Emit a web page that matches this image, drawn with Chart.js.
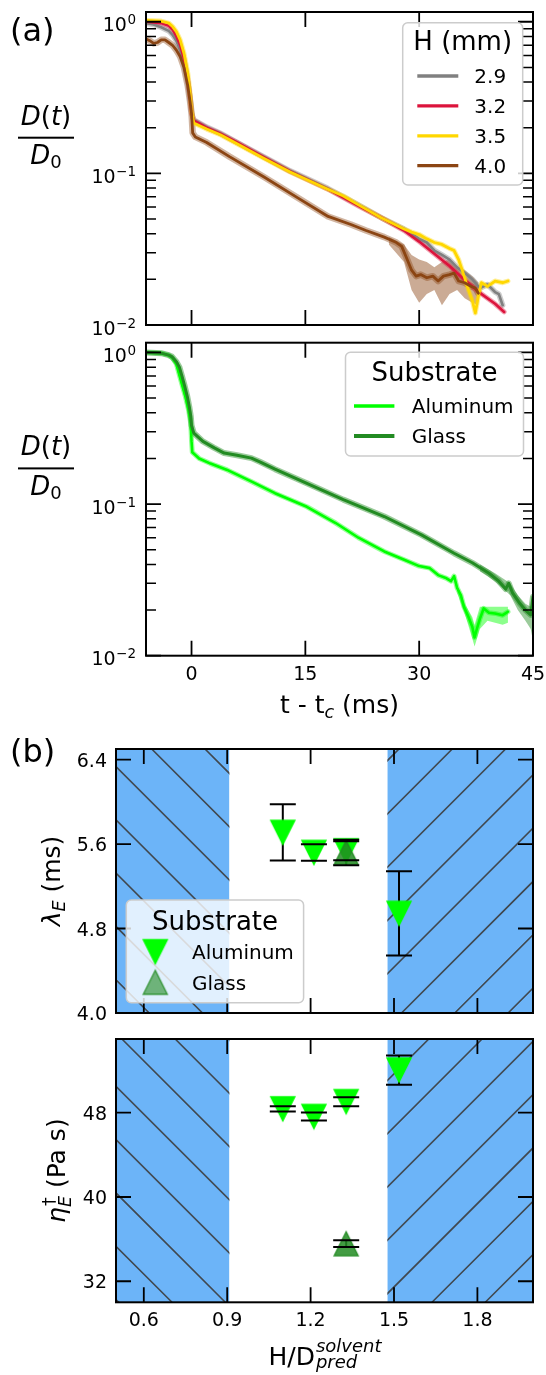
<!DOCTYPE html>
<html>
<head>
<meta charset="utf-8">
<script src="https://cdn.jsdelivr.net/npm/chart.js@4.4.0/dist/chart.umd.min.js"></script>
<style>
  html, body { margin: 0; padding: 0; background: #fff; }
  #wrap { position: relative; width: 546px; height: 1375px; overflow: hidden; }
  canvas { position: absolute; left: 0; }
</style>
</head>
<body>
<div id="wrap">
  <canvas id="cA" width="546" height="336" style="top:0px"></canvas>
  <canvas id="cB" width="546" height="390" style="top:336px"></canvas>
  <canvas id="cC" width="546" height="300" style="top:726px"></canvas>
  <canvas id="cD" width="546" height="349" style="top:1026px"></canvas>
</div>
<script>
// (a) top: D/D0 vs t - tc for the four heights
const H_LABELS = ["2.9", "3.2", "3.5", "4.0"];
const H_COLORS = ["#808080", "#dc143c", "#ffd700", "#8b4513"];

const T_29 = [-6, -5, -4, -3, -2.5, -2, -1.5, -1, -0.5, -0.2, 0, 0.3, 1, 2, 3.8, 6, 9.5, 13, 17.9, 22, 25, 28, 30, 31, 32, 33, 34, 35, 36, 37, 38, 39, 40, 40.5, 41];
const D_29 = [0.98, 0.96, 0.92, 0.87, 0.82, 0.75, 0.65, 0.53, 0.4, 0.31, 0.25, 0.225, 0.215, 0.202, 0.184, 0.16, 0.129, 0.104, 0.08, 0.062, 0.051, 0.043, 0.037, 0.035, 0.031, 0.029, 0.027, 0.024, 0.022, 0.02, 0.0175, 0.0185, 0.0165, 0.016, 0.0135];

const T_32 = [-6, -4, -3, -2.5, -2, -1.5, -1, -0.5, -0.2, 0, 0.3, 1, 2, 3.8, 6, 9.5, 13, 17.9, 22, 25, 28, 30, 32, 34, 36, 38, 40, 41.2];
const D_32 = [1.0, 0.98, 0.94, 0.89, 0.8, 0.7, 0.57, 0.42, 0.32, 0.25, 0.223, 0.214, 0.2, 0.183, 0.16, 0.128, 0.103, 0.079, 0.061, 0.051, 0.042, 0.0355, 0.0295, 0.0245, 0.0198, 0.0163, 0.0138, 0.0122];

const T_35 = [-6, -4, -3, -2.5, -2, -1.5, -1, -0.5, -0.2, 0, 0.3, 1, 2, 3.8, 6, 9.5, 13, 17.9, 20, 22, 25, 28, 29, 30, 31, 32, 33, 34, 34.6, 35.2, 35.8, 36.5, 37, 37.4, 37.8, 38.2, 39, 40, 41, 41.7];
const D_35 = [1.02, 1.01, 0.98, 0.93, 0.86, 0.76, 0.62, 0.46, 0.34, 0.26, 0.215, 0.207, 0.196, 0.18, 0.157, 0.126, 0.102, 0.079, 0.071, 0.062, 0.051, 0.043, 0.041, 0.0395, 0.037, 0.035, 0.034, 0.032, 0.031, 0.027, 0.022, 0.017, 0.0145, 0.012, 0.0155, 0.019, 0.018, 0.0195, 0.019, 0.0195];

const T_40 = [-6, -5.5, -5, -4.5, -4, -3.5, -3, -2.5, -2, -1.5, -1, -0.5, -0.2, 0, 0.15, 0.5, 2, 5, 9.5, 14, 18, 21, 23, 25.4, 27, 27.7, 28.3, 29, 29.6, 30.2, 31, 31.8, 32.5, 33.2, 34, 34.6, 35.2, 36, 36.8, 37.4, 37.8];
const D_40 = [0.77, 0.75, 0.72, 0.73, 0.76, 0.76, 0.73, 0.7, 0.65, 0.59, 0.5, 0.38, 0.3, 0.25, 0.185, 0.174, 0.16, 0.129, 0.095, 0.069, 0.052, 0.046, 0.042, 0.038, 0.035, 0.033, 0.028, 0.023, 0.021, 0.0215, 0.0205, 0.021, 0.0195, 0.021, 0.0215, 0.022, 0.0195, 0.019, 0.018, 0.0175, 0.0162];
// spread of the 4.0 mm runs at the noisy end
const T_40B = [26, 28, 29, 30, 31, 32, 33, 34, 35, 36, 37, 37.8];
const LO_40 = [0.034, 0.026, 0.017, 0.014, 0.016, 0.017, 0.0135, 0.016, 0.017, 0.015, 0.014, 0.0135];
const HI_40 = [0.038, 0.034, 0.029, 0.027, 0.026, 0.024, 0.026, 0.027, 0.024, 0.023, 0.021, 0.019];

// (a) bottom: substrate comparison
const SUB_LABELS = ["Aluminum", "Glass"];
const SUB_COLORS = ["#00ff00", "#228b22"];
const T_AL = [-6, -4, -3, -2.5, -2, -1.7, -1.2, -0.8, -0.4, -0.1, 0, 0.1, 1, 2.5, 4.7, 8, 11, 15.2, 19, 22, 25.4, 28.1, 30, 31.4, 32.5, 33.6, 34.2, 34.6, 35, 35.5, 35.9, 36.5, 37, 37.3, 37.6, 38, 38.5, 39.2, 40, 41, 41.7];
const D_AL = [1.0, 0.99, 0.96, 0.92, 0.84, 0.74, 0.6, 0.51, 0.42, 0.34, 0.26, 0.22, 0.2, 0.185, 0.168, 0.14, 0.118, 0.096, 0.075, 0.06, 0.0487, 0.0428, 0.039, 0.0378, 0.034, 0.0324, 0.031, 0.0335, 0.028, 0.025, 0.021, 0.018, 0.0155, 0.0132, 0.015, 0.0175, 0.0205, 0.0192, 0.019, 0.0185, 0.0195];
const T_ALB = [35, 36, 37, 37.3, 38, 39, 40, 41, 41.7];
const LO_AL = [0.026, 0.019, 0.013, 0.0115, 0.015, 0.017, 0.0165, 0.016, 0.0165];
const HI_AL = [0.029, 0.022, 0.018, 0.016, 0.021, 0.021, 0.021, 0.021, 0.021];
const T_GL = [-6, -4, -3, -2.6, -2, -1.6, -1.25, -0.9, -0.55, -0.3, -0.1, 0, 0.3, 1.5, 3, 4.3, 6, 7.9, 9, 11, 15.2, 20, 25.4, 30.3, 34.6, 37, 39.2, 40.5, 41.4, 41.8, 42.3, 43.3, 44, 44.7, 45];
const D_GL = [1.0, 0.99, 0.96, 0.94, 0.87, 0.8, 0.695, 0.6, 0.51, 0.44, 0.38, 0.33, 0.294, 0.259, 0.235, 0.217, 0.21, 0.201, 0.19, 0.17, 0.137, 0.107, 0.0828, 0.0627, 0.0474, 0.041, 0.035, 0.031, 0.0275, 0.03, 0.026, 0.022, 0.02, 0.0186, 0.0245];
const T_GLB = [38, 40, 42, 43, 44, 44.7, 45];
const LO_GL = [0.036, 0.031, 0.025, 0.02, 0.017, 0.015, 0.0125];
const HI_GL = [0.04, 0.035, 0.03, 0.025, 0.022, 0.021, 0.027];

const XT_A = [0, 15, 30, 45];
const YT_A = [0.01, 0.1, 1];
const YT_A_EXP = ["\u22122", "\u22121", "0"];
const YT_A_MINOR = [0.02, 0.03, 0.04, 0.05, 0.06, 0.07, 0.08, 0.09, 0.2, 0.3, 0.4, 0.5, 0.6, 0.7, 0.8, 0.9];

// (b): relaxation time and extensional viscosity vs H / D_pred
const X_AL = [1.1, 1.212, 1.328, 1.518];
const X_GL = [1.328];
const LAM_AL = [5.71, 5.52, 5.536, 4.943], LAM_AL_ERR = [0.266, 0.078, 0.09, 0.399];
const LAM_GL = [5.52], LAM_GL_ERR = [0.12];
const ETA_AL = [48.37, 47.64, 49.05, 52.05], ETA_AL_ERR = [0.25, 0.37, 0.43, 1.39];
const ETA_GL = [35.56], ETA_GL_ERR = [0.32];
const SHADE = [[0.5, 0.908], [1.476, 2.0]];
const XT_B = [0.6, 0.9, 1.2, 1.5, 1.8];
const XT_B_LABELS = ["0.6", "0.9", "1.2", "1.5", "1.8"];
const YT_LAM = [4.0, 4.8, 5.6, 6.4], YT_LAM_LABELS = ["4.0", "4.8", "5.6", "6.4"];
const YT_ETA = [32, 40, 48], YT_ETA_LABELS = ["32", "40", "48"];

const BLUE = "#6cb4f8", HATCH = "rgba(60,60,60,0.9)";
const SP = 53.3, PH_BACK = 42.3, PH_FWD = 28.7;
const f = (px, it) => `${it ? "italic " : ""}${px}px "DejaVu Sans"`;

function pts(t, v) { return t.map((x, i) => ({ x, y: v[i] })) }
function rgba(hex, a) { const n = parseInt(hex.slice(1), 16); return `rgba(${n >> 16},${(n >> 8) & 255},${n & 255},${a})` }
function line(t, v, color, w) {
  return { data: pts(t, v), borderColor: color, borderWidth: w, pointRadius: 0, tension: 0, fill: false, borderJoinStyle: "round", borderCapStyle: "round" };
}
function band(t, lo, hi, color) {
  return [
    { data: pts(t, lo), borderWidth: 0, borderColor: "rgba(0,0,0,0)", pointRadius: 0, fill: false },
    { data: pts(t, hi), borderWidth: 0, borderColor: "rgba(0,0,0,0)", pointRadius: 0, fill: "-1", backgroundColor: color }
  ];
}
// listed bottom to top
function stack(list) { const n = list.length; return list.map((d, i) => ({ ...d, order: n - i })) }

function tri(size, up, fill, edge) {
  const p = 2, c = document.createElement("canvas"); c.width = c.height = size + 2 * p;
  const g = c.getContext("2d"), s = size / 2, m = s + p;
  g.beginPath();
  if (up) { g.moveTo(m, m - s); g.lineTo(m + s, m + s); g.lineTo(m - s, m + s) }
  else { g.moveTo(m, m + s); g.lineTo(m + s, m - s); g.lineTo(m - s, m - s) }
  g.closePath(); g.fillStyle = fill; g.fill(); g.lineWidth = 1.4; g.strokeStyle = edge; g.stroke();
  return c;
}
const TRI_AL = tri(24, false, "#00ff00", "#00ff00");
const TRI_GL = tri(24, true, "rgba(34,139,34,0.85)", "rgba(34,139,34,0.9)");
const TRI_GL_LEG = tri(24, true, "rgba(34,139,34,0.6)", "rgba(34,139,34,0.8)");

function frameTicks(ctx, ch, xt, yt, yMinor) {
  const a = ch.chartArea, sx = ch.scales.x, sy = ch.scales.y;
  ctx.save(); ctx.strokeStyle = "#000"; ctx.lineWidth = 1.8; ctx.beginPath();
  xt.forEach(v => { const p = sx.getPixelForValue(v); ctx.moveTo(p, a.top); ctx.lineTo(p, a.top + 15); ctx.moveTo(p, a.bottom); ctx.lineTo(p, a.bottom - 15) });
  yt.forEach(v => { const p = sy.getPixelForValue(v); ctx.moveTo(a.left, p); ctx.lineTo(a.left + 15, p); ctx.moveTo(a.right, p); ctx.lineTo(a.right - 15, p) });
  ctx.stroke();
  if (yMinor) {
    ctx.lineWidth = 1.5; ctx.beginPath();
    yMinor.forEach(v => { const p = sy.getPixelForValue(v); ctx.moveTo(a.left, p); ctx.lineTo(a.left + 10, p); ctx.moveTo(a.right, p); ctx.lineTo(a.right - 10, p) });
    ctx.stroke();
  }
  ctx.lineWidth = 2; ctx.strokeRect(a.left, a.top, a.right - a.left, a.bottom - a.top);
  ctx.restore();
}

function legendBox(ctx, x, y, w, h) {
  const r = 5;
  ctx.save(); ctx.beginPath();
  ctx.moveTo(x + r, y); ctx.arcTo(x + w, y, x + w, y + h, r); ctx.arcTo(x + w, y + h, x, y + h, r);
  ctx.arcTo(x, y + h, x, y, r); ctx.arcTo(x, y, x + w, y, r); ctx.closePath();
  ctx.fillStyle = "rgba(255,255,255,0.8)"; ctx.fill(); ctx.strokeStyle = "#cccccc"; ctx.lineWidth = 1.5; ctx.stroke();
  ctx.restore();
}

// runs of text pieces: {t, s, i, dy}
function runWidth(ctx, parts) { let w = 0; parts.forEach(p => { ctx.font = f(p.s, p.i); w += ctx.measureText(p.t).width }); return w }
function drawRun(ctx, parts, x, y) { parts.forEach(p => { ctx.font = f(p.s, p.i); ctx.fillText(p.t, x, y + (p.dy || 0)); x += ctx.measureText(p.t).width }) }

function logLabels(ctx, ch) {
  const sy = ch.scales.y;
  ctx.save(); ctx.fillStyle = "#000"; ctx.textAlign = "left"; ctx.textBaseline = "alphabetic";
  YT_A.forEach((v, i) => {
    const p = sy.getPixelForValue(v);
    ctx.font = f(13.5); const sw = ctx.measureText(YT_A_EXP[i]).width;
    const sx0 = 136 - sw; ctx.fillText(YT_A_EXP[i], sx0, p + 2.5);
    ctx.font = f(19); const bw = ctx.measureText("10").width; ctx.fillText("10", sx0 - bw - 0.5, p + 9.5);
  });
  ctx.restore();
}

function fracLabel(ctx, cx, yNum, yBar, yDen) {
  ctx.save(); ctx.fillStyle = "#000"; ctx.textAlign = "left"; ctx.textBaseline = "alphabetic";
  const num = [{ t: "D", s: 26, i: true }, { t: "(", s: 26 }, { t: "t", s: 26, i: true }, { t: ")", s: 26 }];
  drawRun(ctx, num, cx - runWidth(ctx, num) / 2, yNum);
  ctx.fillRect(cx - 28, yBar - 1, 56, 2);
  const den = [{ t: "D", s: 26, i: true }, { t: "0", s: 18, dy: 4 }];
  drawRun(ctx, den, cx - runWidth(ctx, den) / 2, yDen);
  ctx.restore();
}

function hatchRect(ctx, x0, x1, y0, y1, dir, off) {
  ctx.save(); ctx.beginPath(); ctx.rect(x0, y0, x1 - x0, y1 - y0); ctx.clip();
  ctx.fillStyle = BLUE; ctx.fillRect(x0, y0, x1 - x0, y1 - y0);
  ctx.strokeStyle = HATCH; ctx.lineWidth = 1.6; ctx.beginPath();
  const h = y1 - y0, Y0 = y0 + off;
  for (let k = -80; k < 80; k++) {
    if (dir < 0) { const xs = PH_BACK + k * SP + Y0; ctx.moveTo(xs, y0); ctx.lineTo(xs + h, y1) }
    else { const xs = PH_FWD + k * SP - Y0; ctx.moveTo(xs, y0); ctx.lineTo(xs - h, y1) }
  }
  ctx.stroke(); ctx.restore();
}

function baseOpts(pad, x, y) {
  return {
    responsive: false, animation: false, devicePixelRatio: 1,
    layout: { padding: pad },
    plugins: { legend: { display: false }, tooltip: { enabled: false } },
    scales: { x: { display: false, ...x }, y: { display: false, ...y } }
  };
}

// ---------- panel (a) top
new Chart(document.getElementById("cA"), {
  type: "line",
  data: {
    datasets: stack([
      ...band(T_40B, LO_40, HI_40, rgba(H_COLORS[3], 0.45)),
      line(T_40, D_40, rgba(H_COLORS[3], 0.4), 6.5),
      line(T_29, D_29, rgba(H_COLORS[0], 0.4), 5.5),
      line(T_32, D_32, rgba(H_COLORS[1], 0.4), 5),
      line(T_35, D_35, rgba(H_COLORS[2], 0.4), 5),
      line(T_29, D_29, H_COLORS[0], 2.6),
      line(T_32, D_32, H_COLORS[1], 2.6),
      line(T_35, D_35, H_COLORS[2], 2.8),
      line(T_40, D_40, H_COLORS[3], 2.8)
    ])
  },
  options: baseOpts({ left: 146, right: 13, top: 12, bottom: 11 },
    { type: "linear", min: -6, max: 45 }, { type: "logarithmic", min: 0.01, max: 1.16 }),
  plugins: [{
    id: "decoA",
    afterDraw(ch) {
      const ctx = ch.ctx;
      frameTicks(ctx, ch, XT_A.slice(0, 3), YT_A, YT_A_MINOR);
      logLabels(ctx, ch);
      fracLabel(ctx, 46, 124.6, 137.7, 164);
      ctx.save(); ctx.fillStyle = "#000"; ctx.font = f(32); ctx.fillText("(a)", 10, 41);
      legendBox(ctx, 402.7, 22.7, 120, 162.3);
      ctx.textAlign = "center"; ctx.font = f(26); ctx.fillText("H (mm)", 462.7, 50);
      ctx.textAlign = "left"; ctx.font = f(20);
      H_LABELS.forEach((lab, i) => {
        const y = 76 + i * 29.9;
        ctx.strokeStyle = H_COLORS[i]; ctx.lineWidth = 3.3; ctx.beginPath(); ctx.moveTo(417.3, y); ctx.lineTo(458.3, y); ctx.stroke();
        ctx.fillText(lab, 474.3, y + 7.3);
      });
      ctx.restore();
    }
  }]
});

// ---------- panel (a) bottom
new Chart(document.getElementById("cB"), {
  type: "line",
  data: {
    datasets: stack([
      ...band(T_GLB, LO_GL, HI_GL, rgba(SUB_COLORS[1], 0.45)),
      ...band(T_ALB, LO_AL, HI_AL, rgba(SUB_COLORS[0], 0.45)),
      line(T_AL, D_AL, rgba(SUB_COLORS[0], 0.4), 5),
      line(T_GL, D_GL, rgba(SUB_COLORS[1], 0.45), 6),
      line(T_AL, D_AL, SUB_COLORS[0], 2.6),
      line(T_GL, D_GL, SUB_COLORS[1], 3)
    ])
  },
  options: baseOpts({ left: 146, right: 13, top: 6.7, bottom: 70.3 },
    { type: "linear", min: -6, max: 45 }, { type: "logarithmic", min: 0.01, max: 1.16 }),
  plugins: [{
    id: "decoB",
    afterDraw(ch) {
      const ctx = ch.ctx, sx = ch.scales.x, a = ch.chartArea;
      frameTicks(ctx, ch, XT_A, YT_A, YT_A_MINOR);
      logLabels(ctx, ch);
      fracLabel(ctx, 46, 119.3, 132.4, 158.7);
      ctx.save(); ctx.fillStyle = "#000"; ctx.textAlign = "center"; ctx.font = f(19);
      XT_A.forEach(v => ctx.fillText(String(v), sx.getPixelForValue(v), 344));
      ctx.textAlign = "left";
      const xl = [{ t: "t - t", s: 25 }, { t: "c", s: 17.5, i: true, dy: 5 }, { t: " (ms)", s: 25 }];
      drawRun(ctx, xl, (a.left + a.right) / 2 - runWidth(ctx, xl) / 2, 376.5);
      legendBox(ctx, 345.5, 16.3, 178, 103.7);
      ctx.textAlign = "center"; ctx.font = f(26); ctx.fillText("Substrate", 434.5, 45);
      ctx.textAlign = "left"; ctx.font = f(20);
      SUB_LABELS.forEach((lab, i) => {
        const y = 70 + i * 30;
        ctx.strokeStyle = SUB_COLORS[i]; ctx.lineWidth = i ? 3.8 : 3.3; ctx.beginPath(); ctx.moveTo(354, y); ctx.lineTo(394.4, y); ctx.stroke();
        ctx.fillText(lab, 411.8, y + 7.3);
      });
      ctx.restore();
    }
  }]
});

// ---------- panel (b): shared drawing
function scatterDeco(cfg) {
  return {
    id: cfg.id,
    beforeDatasetsDraw(ch) {
      const ctx = ch.ctx, a = ch.chartArea, sx = ch.scales.x, sy = ch.scales.y;
      SHADE.forEach(([x0, x1], i) => hatchRect(ctx, sx.getPixelForValue(x0), sx.getPixelForValue(x1), a.top, a.bottom, i === 0 ? -1 : 1, cfg.off));
      ctx.save(); ctx.strokeStyle = "#000"; ctx.lineWidth = 2; ctx.beginPath();
      cfg.err.forEach(([xs, ys, es]) => xs.forEach((x, i) => {
        const p = sx.getPixelForValue(x);
        ctx.moveTo(p, sy.getPixelForValue(ys[i] - es[i])); ctx.lineTo(p, sy.getPixelForValue(ys[i] + es[i]));
      }));
      ctx.stroke(); ctx.restore();
    },
    afterDatasetsDraw(ch) {
      const ctx = ch.ctx, sx = ch.scales.x, sy = ch.scales.y;
      ctx.save(); ctx.strokeStyle = "#000"; ctx.lineWidth = 2; ctx.beginPath();
      cfg.err.forEach(([xs, ys, es]) => xs.forEach((x, i) => {
        const p = sx.getPixelForValue(x);
        [ys[i] - es[i], ys[i] + es[i]].forEach(v => { const q = sy.getPixelForValue(v); ctx.moveTo(p - 13, q); ctx.lineTo(p + 13, q) });
      }));
      ctx.stroke(); ctx.restore();
      frameTicks(ctx, ch, XT_B, cfg.yt);
      ctx.save(); ctx.fillStyle = "#000"; ctx.textAlign = "right"; ctx.font = f(19);
      cfg.yt.forEach((v, i) => ctx.fillText(cfg.ytl[i], 107, sy.getPixelForValue(v) + 7));
      ctx.restore();
      cfg.extra(ctx, ch);
    }
  };
}

function rotated(ctx, cx, cy, draw) { ctx.save(); ctx.translate(cx, cy); ctx.rotate(-Math.PI / 2); ctx.fillStyle = "#000"; ctx.textAlign = "left"; draw(); ctx.restore() }

new Chart(document.getElementById("cC"), {
  type: "scatter",
  data: {
    datasets: stack([
      { data: pts(X_AL, LAM_AL), pointStyle: TRI_AL, pointRadius: 12 },
      { data: pts(X_GL, LAM_GL), pointStyle: TRI_GL, pointRadius: 12 }
    ])
  },
  options: baseOpts({ left: 116, right: 4, top: 23, bottom: 13 },
    { type: "linear", min: 0.5, max: 2.0 }, { type: "linear", min: 4.0, max: 6.5 }),
  plugins: [scatterDeco({
    id: "decoC", off: 726, yt: YT_LAM, ytl: YT_LAM_LABELS,
    err: [[X_AL, LAM_AL, LAM_AL_ERR], [X_GL, LAM_GL, LAM_GL_ERR]],
    extra(ctx, ch) {
      const a = ch.chartArea;
      rotated(ctx, 60, (a.top + a.bottom) / 2, () => {
        const parts = [{ t: "\u03bb", s: 25, i: true }, { t: "E", s: 17.5, i: true, dy: 5 }, { t: " (ms)", s: 25 }];
        drawRun(ctx, parts, -runWidth(ctx, parts) / 2, 0);
      });
      ctx.save(); ctx.fillStyle = "#000"; ctx.font = f(32); ctx.fillText("(b)", 10, 36);
      legendBox(ctx, 126.3, 174, 177.3, 102.7);
      ctx.textAlign = "center"; ctx.font = f(26); ctx.fillText("Substrate", 215, 204);
      ctx.drawImage(TRI_AL, 155.3 - TRI_AL.width / 2, 225.7 - TRI_AL.height / 2);
      ctx.drawImage(TRI_GL_LEG, 155.3 - TRI_GL_LEG.width / 2, 256.3 - TRI_GL_LEG.height / 2);
      ctx.textAlign = "left"; ctx.font = f(20);
      ctx.fillText(SUB_LABELS[0], 192, 233); ctx.fillText(SUB_LABELS[1], 192, 263.6);
      ctx.restore();
    }
  })]
});

new Chart(document.getElementById("cD"), {
  type: "scatter",
  data: {
    datasets: stack([
      { data: pts(X_AL, ETA_AL), pointStyle: TRI_AL, pointRadius: 12 },
      { data: pts(X_GL, ETA_GL), pointStyle: TRI_GL, pointRadius: 12 }
    ])
  },
  options: baseOpts({ left: 116, right: 4, top: 13, bottom: 72.7 },
    { type: "linear", min: 0.5, max: 2.0 }, { type: "linear", min: 30, max: 55 }),
  plugins: [scatterDeco({
    id: "decoD", off: 1026, yt: YT_ETA, ytl: YT_ETA_LABELS,
    err: [[X_AL, ETA_AL, ETA_AL_ERR], [X_GL, ETA_GL, ETA_GL_ERR]],
    extra(ctx, ch) {
      const a = ch.chartArea, sx = ch.scales.x;
      ctx.save(); ctx.fillStyle = "#000"; ctx.textAlign = "center"; ctx.font = f(19);
      XT_B.forEach((v, i) => ctx.fillText(XT_B_LABELS[i], sx.getPixelForValue(v), 299.7));
      ctx.textAlign = "left";
      ctx.font = f(25); const wH = ctx.measureText("H/D").width;
      ctx.font = f(18, true); const wS = Math.max(ctx.measureText("solvent").width, ctx.measureText("pred").width);
      const x0 = (a.left + a.right) / 2 - (wH + wS) / 2;
      ctx.font = f(25); ctx.fillText("H/D", x0, 339);
      ctx.font = f(18, true); ctx.fillText("solvent", x0 + wH + 1, 326); ctx.fillText("pred", x0 + wH + 1, 341.5);
      ctx.restore();
      rotated(ctx, 65, (a.top + a.bottom) / 2, () => {
        ctx.font = f(25, true); const w1 = ctx.measureText("\u03b7").width;
        ctx.font = f(17.5, true); const w2 = Math.max(ctx.measureText("E").width, ctx.measureText("\u2020").width);
        ctx.font = f(25); const w3 = ctx.measureText(" (Pa s)").width;
        let x = -(w1 + w2 + w3) / 2;
        ctx.font = f(25, true); ctx.fillText("\u03b7", x, 0); x += w1;
        ctx.font = f(17.5, true); ctx.fillText("E", x, 5.5);
        ctx.font = f(17.5); ctx.fillText("\u2020", x + 1, -10); x += w2;
        ctx.font = f(25); ctx.fillText(" (Pa s)", x, 0);
      });
    }
  })]
});
</script>
</body>
</html>
